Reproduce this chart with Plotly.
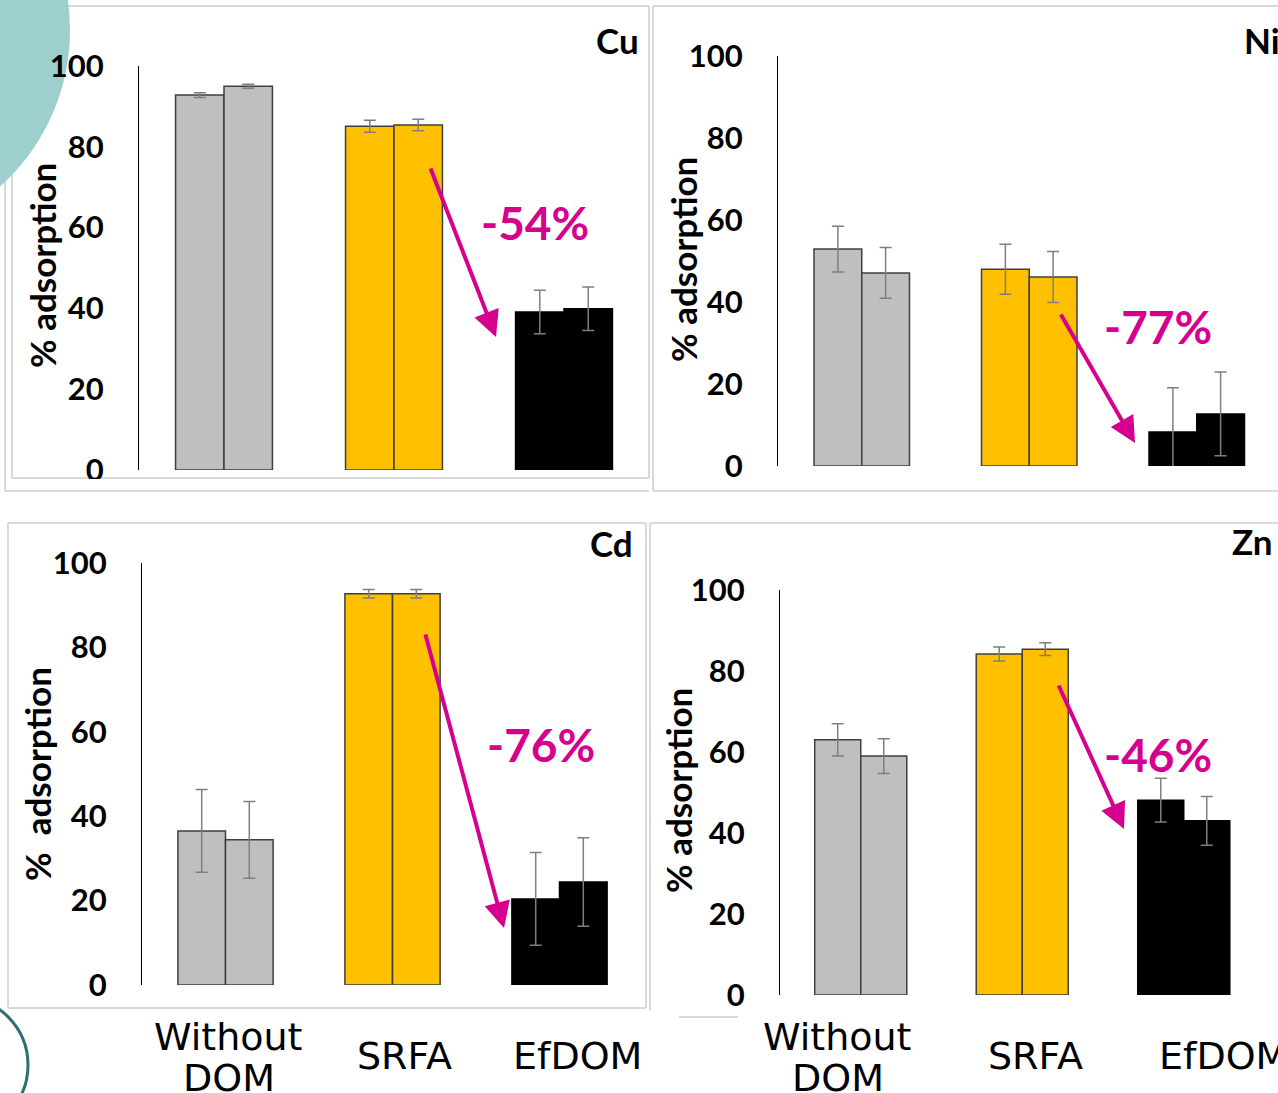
import plotly.graph_objects as go

# ---------------- data ----------------
categories = ["Without DOM", "SRFA", "EfDOM"]
metals = ["Cu", "Ni", "Cd", "Zn"]

cu_rep1 = [92.8, 85.1, 39.1]
cu_rep2 = [95.0, 85.4, 39.9]
cu_err1 = [0.6, 1.5, 5.4]
cu_err2 = [0.5, 1.4, 5.4]

ni_rep1 = [52.9, 48.0, 8.3]
ni_rep2 = [47.1, 46.1, 12.7]
ni_err1 = [5.6, 6.1, 10.8]
ni_err2 = [6.2, 6.2, 10.2]

cd_rep1 = [36.5, 92.7, 20.4]
cd_rep2 = [34.4, 92.7, 24.4]
cd_err1 = [9.8, 1.0, 11.0]
cd_err2 = [9.1, 1.0, 10.5]

zn_rep1 = [63.0, 84.2, 48.1]
zn_rep2 = [59.0, 85.4, 43.0]
zn_err1 = [4.0, 1.7, 5.4]
zn_err2 = [4.3, 1.6, 6.0]

reductions = ["-54%", "-77%", "-76%", "-46%"]
y_ticks = [0, 20, 40, 60, 80, 100]
y_title = "% adsorption"

# ---------------- styling / layout helpers ----------------
W, H = 1278, 1093


def px(x):
    return x / W


def py(y):
    return 1 - y / H


bar_fill = ["#BFBFBF", "#FFC000", "#000000"]
bar_edge = ["#3F3F3F", "#3F3F3F", "#000000"]
err_color = "#7F7F7F"
pink = "#D6008F"
box_grey = "#D9D9D9"
tick_font = dict(family="Lato, Open Sans, sans-serif", size=31, color="#000000", weight="bold")

# per panel: series, y-axis line x, category spacing, y pixel of 0 and 100,
# title centre, metal label centre, reduction label centre, arrow tail/head
panels = [
    dict(metal=metals[0], r1=cu_rep1, r2=cu_rep2, e1=cu_err1, e2=cu_err2,
         axis_x=139, step=170, y0=470, y100=66, title=(42, 266), title_text=y_title,
         label=(617, 40), pct=reductions[0], pct_xy=(535, 222),
         tail=(430, 167), head=(496, 337)),
    dict(metal=metals[1], r1=ni_rep1, r2=ni_rep2, e1=ni_err1, e2=ni_err2,
         axis_x=778, step=167.5, y0=466, y100=56, title=(683, 260), title_text=y_title,
         label=(1262, 40), pct=reductions[1], pct_xy=(1158, 326),
         tail=(1060, 313), head=(1135, 443)),
    dict(metal=metals[2], r1=cd_rep1, r2=cd_rep2, e1=cd_err1, e2=cd_err2,
         axis_x=142, step=167, y0=985, y100=563, title=(37, 774),
         title_text=y_title.replace(" ", "\u00a0 "),
         label=(611, 543), pct=reductions[2], pct_xy=(541, 744),
         tail=(425, 633), head=(504, 928)),
    dict(metal=metals[3], r1=zn_rep1, r2=zn_rep2, e1=zn_err1, e2=zn_err2,
         axis_x=780, step=161.5, y0=995, y100=590, title=(678, 791), title_text=y_title,
         label=(1252, 541), pct=reductions[3], pct_xy=(1158, 754),
         tail=(1058, 684), head=(1124, 829)),
]

fig = go.Figure()
annotations = []
shapes = []

# slide decoration: panel frames
frame = dict(type="line", xref="paper", yref="paper", line=dict(color=box_grey, width=2), layer="below")
frame_segments = [
    # Cu frame
    (12, 6, 649, 6), (12, 6, 12, 478), (649, 6, 649, 478), (12, 478, 649, 478),
    (5, 0, 5, 491), (5, 491, 649, 491),
    # Ni frame
    (653, 6, 1278, 6), (653, 6, 653, 491), (653, 491, 1278, 491),
    # Cd frame
    (8, 523, 646, 523), (8, 523, 8, 1008), (646, 523, 646, 1008), (8, 1008, 646, 1008),
    # Zn frame
    (650, 523, 1278, 523), (650, 523, 650, 1010), (679, 1017, 738, 1017),
]
for x0, y0, x1, y1 in frame_segments:
    shapes.append(dict(frame, x0=px(x0), y0=py(y0), x1=px(x1), y1=py(y1)))

# slide decoration: teal discs at the left edge
shapes.append(dict(type="circle", xref="paper", yref="paper", layer="below",
                   x0=px(-140 - 210), x1=px(-140 + 210), y0=py(30 + 210), y1=py(30 - 210),
                   fillcolor="#9ECFCF", line=dict(width=0)))
shapes.append(dict(type="circle", xref="paper", yref="paper", layer="below",
                   x0=px(-40 - 68), x1=px(-40 + 68), y0=py(1065 + 68), y1=py(1065 - 68),
                   fillcolor="rgba(0,0,0,0)", line=dict(color="#2E6E73", width=3)))

for i, p in enumerate(panels):
    n = i + 1
    xa = "x" if n == 1 else f"x{n}"
    ya = "y" if n == 1 else f"y{n}"
    x_end = min(p["axis_x"] + 3 * p["step"], W)
    x_range = [-0.5, -0.5 + (x_end - p["axis_x"]) / p["step"]]

    for vals, errs in ((p["r1"], p["e1"]), (p["r2"], p["e2"])):
        fig.add_trace(go.Bar(
            x=categories, y=vals, xaxis=xa, yaxis=ya, showlegend=False,
            marker=dict(color=bar_fill, line=dict(color=bar_edge, width=1.5)),
            error_y=dict(type="data", array=errs, color=err_color, thickness=1.5, width=6),
        ))

    xkey = "xaxis" if n == 1 else f"xaxis{n}"
    ykey = "yaxis" if n == 1 else f"yaxis{n}"
    fig.update_layout({
        xkey: dict(domain=[px(p["axis_x"]), px(x_end)], range=x_range, type="category",
                   categoryorder="array", categoryarray=categories, anchor=ya,
                   showticklabels=False, showline=False, showgrid=False, zeroline=False,
                   ticks="", fixedrange=True),
        ykey: dict(domain=[py(p["y0"]), py(p["y100"])], range=[0, 100], anchor=xa,
                   tickvals=y_ticks, showline=True, linecolor="#000000", linewidth=1,
                   showgrid=False, zeroline=False, ticks="", ticklabelstandoff=28,
                   tickfont=tick_font, fixedrange=True),
    })

    # y-axis title
    annotations.append(dict(xref="paper", yref="paper", x=px(p["title"][0]), y=py(p["title"][1]),
                            text=p["title_text"], textangle=-90, showarrow=False,
                            xanchor="center", yanchor="middle",
                            font=dict(family="Lato, sans-serif", size=35, color="#000000", weight="bold")))
    # metal label
    annotations.append(dict(xref="paper", yref="paper", x=px(p["label"][0]), y=py(p["label"][1]),
                            text=p["metal"], showarrow=False, xanchor="center", yanchor="middle",
                            font=dict(family="Lato, sans-serif", size=35, color="#000000", weight="bold")))
    # reduction label
    annotations.append(dict(xref="paper", yref="paper", x=px(p["pct_xy"][0]), y=py(p["pct_xy"][1]),
                            text=p["pct"], showarrow=False, xanchor="center", yanchor="middle",
                            font=dict(family="Lato, sans-serif", size=46, color=pink, weight="bold")))
    # reduction arrow
    hx, hy = p["head"]
    tx, ty = p["tail"]
    annotations.append(dict(xref="paper", yref="paper", x=px(hx), y=py(hy),
                            ax=tx - hx, ay=ty - hy, text="", showarrow=True,
                            arrowhead=2, arrowsize=1.3, arrowwidth=4, arrowcolor=pink, standoff=0))

# category labels under the bottom row (pixel nudges per label)
label_font = dict(family="DejaVu Sans, Verdana, sans-serif", size=38, color="#000000")
label_nudge = {"x3": [3, 12, 18], "x4": [-23, 13, 40]}
for xa_ref, nudges in label_nudge.items():
    for cat, dx in zip(categories, nudges):
        words = cat.split(" ")
        if len(words) == 2:
            lines = [(words[0], 1037), (words[1], 1078)]
        else:
            lines = [(cat, 1056)]
        for txt, ypix in lines:
            annotations.append(dict(xref=xa_ref, yref="paper", x=cat, y=py(ypix), xshift=dx,
                                    text=txt, showarrow=False, xanchor="center", yanchor="middle",
                                    font=label_font))

# strip that cuts through the Cu "0" tick label
shapes.append(dict(type="rect", xref="paper", yref="paper", layer="above",
                   x0=px(13), x1=px(648), y0=py(490), y1=py(479),
                   fillcolor="#FFFFFF", line=dict(width=0)))

fig.update_layout(
    width=W, height=H,
    margin=dict(l=0, r=0, t=0, b=0, autoexpand=False),
    paper_bgcolor="#FFFFFF", plot_bgcolor="rgba(0,0,0,0)",
    barmode="group", bargap=0.43, bargroupgap=0,
    showlegend=False,
    annotations=annotations, shapes=shapes,
)

fig.write_html("out.html")
